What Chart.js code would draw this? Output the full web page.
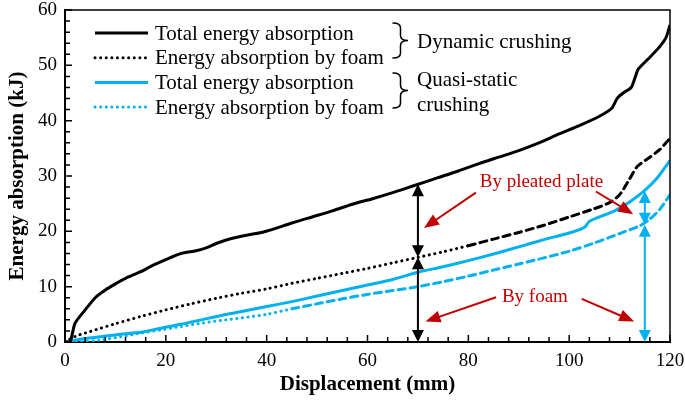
<!DOCTYPE html>
<html>
<head>
<meta charset="utf-8">
<script src="https://cdn.jsdelivr.net/npm/chart.js@4.4.1/dist/chart.umd.min.js"></script>
<style>
  html, body { margin: 0; padding: 0; background: #fff; }
  #wrap { position: relative; width: 685px; height: 402px; }
</style>
</head>
<body>
<div id="wrap"><canvas id="grafik"></canvas></div>
<script>
// ── VERI ──
// Dynamic crushing, total energy absorption (black solid)
const dynTotalX = [0, 1, 2, 4, 6, 8, 10, 12, 15, 17.5, 20, 23, 26, 28, 30, 33, 36, 39, 41, 45, 49, 53, 57, 61, 65, 69, 74, 78, 82, 86, 90, 94, 98, 102, 106, 108.5, 109.5, 110.7, 112.3, 113, 113.7, 115.5, 117.8, 119.2, 120]
const dynTotalY = [0, 0, 3.4, 5.8, 8.0, 9.4, 10.5, 11.5, 12.7, 13.9, 14.9, 16.0, 16.5, 17.0, 17.8, 18.7, 19.3, 19.8, 20.3, 21.5, 22.6, 23.7, 24.9, 25.9, 27.0, 28.2, 29.7, 30.9, 32.2, 33.4, 34.6, 36.0, 37.6, 39.1, 40.8, 42.3, 44.0, 45.0, 46.0, 47.6, 49.3, 51.0, 53.2, 55.0, 57.3]

// Dynamic crushing, energy absorption by foam (black dotted)
const dynFoamX = [0, 2, 5, 10, 15, 20, 25, 30, 35, 40, 45, 50, 55, 60, 65, 70, 75, 80, 85, 90, 95, 100, 105, 108, 110, 112, 113.5, 116, 118, 120]
const dynFoamY = [0, 1.0, 1.9, 3.3, 4.6, 5.8, 6.9, 7.9, 8.8, 9.6, 10.6, 11.5, 12.4, 13.3, 14.3, 15.3, 16.3, 17.4, 18.6, 19.8, 21.1, 22.6, 24.1, 25.2, 26.6, 29.5, 31.7, 33.4, 34.8, 36.8]

// Quasi-static crushing, total energy absorption (blue solid)
const qsTotalX = [0, 3, 7, 11, 15, 19, 23, 27, 31, 35, 40, 45, 50, 55, 60, 65, 70, 75, 80, 85, 90, 95, 100, 103, 104, 106, 109, 112, 115, 117.5, 120]
const qsTotalY = [0, 0.5, 0.95, 1.4, 1.75, 2.5, 3.2, 4.0, 4.8, 5.5, 6.4, 7.3, 8.3, 9.3, 10.3, 11.3, 12.6, 13.6, 14.7, 15.9, 17.2, 18.5, 19.7, 20.7, 21.8, 22.6, 23.7, 25.3, 27.4, 29.7, 32.8]

// Quasi-static crushing, energy absorption by foam (blue dashed)
const qsFoamX = [0, 3, 7, 11, 15, 19, 23, 27, 31, 35, 40, 45, 50, 55, 60, 65, 70, 75, 80, 85, 90, 95, 100, 105, 110, 114, 116, 118, 120]
const qsFoamY = [0, 0.05, 0.35, 0.95, 1.6, 2.2, 2.8, 3.4, 3.9, 4.35, 5.0, 6.0, 6.9, 7.8, 8.6, 9.3, 10.0, 10.9, 11.9, 13.0, 14.1, 15.2, 16.4, 17.9, 19.6, 21.0, 22.2, 24.0, 26.6]

const legendLabels = ['Total energy absorption', 'Energy absorption by foam', 'Total energy absorption', 'Energy absorption by foam']
const groupLabels = [['Dynamic crushing'], ['Quasi-static', 'crushing']]

// double arrows: [x, bottom, middle, top]
const dynArrow = [70, 0, 15.3, 28.5]
const qsArrow = [115, 0, 21.2, 27.3]

const SERIF = '"Liberation Serif", "Times New Roman", serif'
const BLUE = '#00b0f0'
const RED = '#c00000'

function noktalar(xs, ys) {
  return xs.map((x, i) => ({ x, y: ys[i] }))
}

// ── CIZIM YARDIMCILARI ──
function okBasi(ctx, tx, ty, aci, boy, en, renk) {
  ctx.save()
  ctx.fillStyle = renk
  ctx.translate(tx, ty)
  ctx.rotate(aci)
  ctx.beginPath()
  ctx.moveTo(0, 0)
  ctx.lineTo(-boy, -en / 2)
  ctx.lineTo(-boy, en / 2)
  ctx.closePath()
  ctx.fill()
  ctx.restore()
}

function ciftOk(ctx, x, yAlt, yUst, renk) {
  ctx.save()
  ctx.strokeStyle = renk
  ctx.lineWidth = 2
  ctx.beginPath()
  ctx.moveTo(x, yAlt - 10)
  ctx.lineTo(x, yUst + 10)
  ctx.stroke()
  ctx.restore()
  okBasi(ctx, x, yUst, -Math.PI / 2, 12, 12, renk)
  okBasi(ctx, x, yAlt, Math.PI / 2, 12, 12, renk)
}

function kirmiziOk(ctx, x0, y0, x1, y1) {
  const aci = Math.atan2(y1 - y0, x1 - x0)
  ctx.save()
  ctx.strokeStyle = RED
  ctx.lineWidth = 2
  ctx.beginPath()
  ctx.moveTo(x0, y0)
  ctx.lineTo(x1 - Math.cos(aci) * 12, y1 - Math.sin(aci) * 12)
  ctx.stroke()
  ctx.restore()
  okBasi(ctx, x1, y1, aci, 15, 12, RED)
}

function parantez(ctx, x0, yt, yb, w) {
  const ym = (yt + yb) / 2
  const xm = x0 + w / 2
  ctx.save()
  ctx.strokeStyle = '#000'
  ctx.lineWidth = 1.5
  ctx.beginPath()
  ctx.moveTo(x0, yt)
  ctx.quadraticCurveTo(xm, yt, xm, yt + 5)
  ctx.lineTo(xm, ym - 5)
  ctx.quadraticCurveTo(xm, ym, x0 + w, ym)
  ctx.quadraticCurveTo(xm, ym, xm, ym + 5)
  ctx.lineTo(xm, yb - 5)
  ctx.quadraticCurveTo(xm, yb, x0, yb)
  ctx.stroke()
  ctx.restore()
}

// ── EKLENTI: tikler, cerceve, oklar, lejant ──
const suslemeler = {
  id: 'suslemeler',
  afterDatasetsDraw(chart) {
    const { ctx, chartArea: a, scales: { x, y } } = chart

    // frame top & right
    ctx.save()
    ctx.strokeStyle = '#000'
    ctx.lineWidth = 1.5
    ctx.beginPath()
    ctx.moveTo(a.left, a.top)
    ctx.lineTo(a.right, a.top)
    ctx.lineTo(a.right, a.bottom)
    ctx.stroke()

    // inward ticks
    ctx.lineWidth = 1.5
    ctx.beginPath()
    for (let v = 0; v <= 120; v += 4) {
      const px = x.getPixelForValue(v)
      ctx.moveTo(px, a.bottom)
      ctx.lineTo(px, a.bottom - (v % 20 === 0 ? 7 : 5))
    }
    for (let v = 0; v <= 60; v += 2) {
      const py = y.getPixelForValue(v)
      ctx.moveTo(a.left, py)
      ctx.lineTo(a.left + (v % 10 === 0 ? 7 : 5), py)
    }
    ctx.stroke()
    ctx.restore()

    // double arrows
    const okCiz = (d, renk) => {
      const px = x.getPixelForValue(d[0])
      ciftOk(ctx, px, y.getPixelForValue(d[1]), y.getPixelForValue(d[2]), renk)
      ciftOk(ctx, px, y.getPixelForValue(d[2]), y.getPixelForValue(d[3]), renk)
    }
    okCiz(dynArrow, '#000')
    okCiz(qsArrow, BLUE)

    // red notes
    const P = (vx, vy) => [x.getPixelForValue(vx), y.getPixelForValue(vy)]
    ctx.save()
    ctx.fillStyle = RED
    ctx.font = '19px ' + SERIF
    ctx.textAlign = 'center'
    ctx.textBaseline = 'middle'
    ctx.fillText('By pleated plate', ...P(94.5, 28.9))
    ctx.fillText('By foam', ...P(93.2, 8.1))
    ctx.restore()
    kirmiziOk(ctx, ...P(81.5, 27.0), ...P(71.2, 20.6))
    kirmiziOk(ctx, ...P(105.3, 27.2), ...P(112.7, 23.1))
    kirmiziOk(ctx, ...P(85.5, 8.1), ...P(71.5, 3.7))
    kirmiziOk(ctx, ...P(102.5, 7.8), ...P(112.9, 3.7))

    // legend
    const stiller = [
      { renk: '#000', dash: [] },
      { renk: '#000', dash: [0.1, 5.5] },
      { renk: BLUE, dash: [] },
      { renk: BLUE, dash: [0.1, 5.5] }
    ]
    ctx.save()
    ctx.font = '21px ' + SERIF
    ctx.textBaseline = 'middle'
    legendLabels.forEach((t, i) => {
      const ly = a.top + 23 + i * 24.7
      ctx.strokeStyle = stiller[i].renk
      ctx.lineWidth = 3
      ctx.lineCap = stiller[i].dash.length ? 'round' : 'butt'
      ctx.setLineDash(stiller[i].dash)
      ctx.beginPath()
      ctx.moveTo(a.left + 30, ly)
      ctx.lineTo(a.left + 83, ly)
      ctx.stroke()
      ctx.setLineDash([])
      ctx.fillStyle = '#000'
      ctx.fillText(t, a.left + 90, ly + 1)
    })
    parantez(ctx, a.left + 328, a.top + 13, a.top + 48, 15)
    parantez(ctx, a.left + 328, a.top + 63, a.top + 98, 15)
    ctx.fillStyle = '#000'
    ctx.fillText(groupLabels[0][0], a.left + 352, a.top + 32)
    ctx.fillText(groupLabels[1][0], a.left + 352, a.top + 70)
    ctx.fillText(groupLabels[1][1], a.left + 352, a.top + 95)
    ctx.restore()
  }
}

// ── GRAFIK ──
const noktali = [0.1, 5.5]
const kesikli = [7, 5]

new Chart(document.getElementById('grafik'), {
  type: 'line',
  data: {
    datasets: [
      {
        data: noktalar(dynTotalX, dynTotalY),
        borderColor: '#000', borderWidth: 3, tension: 0.25
      },
      {
        data: noktalar(dynFoamX, dynFoamY),
        borderColor: '#000', borderWidth: 3, tension: 0.25,
        borderCapStyle: 'round',
        segment: { borderDash: c => c.p0.parsed.x >= 80 ? kesikli : noktali }
      },
      {
        data: noktalar(qsTotalX, qsTotalY),
        borderColor: BLUE, borderWidth: 3, tension: 0.25
      },
      {
        data: noktalar(qsFoamX, qsFoamY),
        borderColor: BLUE, borderWidth: 3, tension: 0.25,
        borderCapStyle: 'round',
        segment: { borderDash: c => c.p0.parsed.x >= 45 ? kesikli : noktali }
      }
    ]
  },
  options: {
    responsive: true,
    maintainAspectRatio: false,
    animation: false,
    events: [],
    elements: { point: { radius: 0 } },
    layout: { padding: 0 },
    plugins: { legend: { display: false }, tooltip: { enabled: false } },
    scales: {
      x: {
        type: 'linear', min: 0, max: 120,
        afterFit: s => {
          s.height = 60
          s.paddingLeft = 0
          s.paddingRight = 15
        },
        grid: { display: false, drawTicks: false },
        border: { display: true, color: '#000', width: 2 },
        ticks: { stepSize: 20, padding: 8, color: '#000', font: { family: SERIF, size: 19 } },
        title: {
          display: true, text: 'Displacement (mm)', color: '#000',
          padding: { top: 0, bottom: 5 },
          font: { family: SERIF, size: 21, weight: 'bold' }
        }
      },
      y: {
        min: 0, max: 60,
        afterFit: s => {
          s.width = 65
          s.paddingTop = 10
          s.paddingBottom = 0
        },
        grid: { display: false, drawTicks: false },
        border: { display: true, color: '#000', width: 2 },
        ticks: { stepSize: 10, padding: 8, color: '#000', font: { family: SERIF, size: 19 } },
        title: {
          display: true, text: 'Energy absorption (kJ)', color: '#000',
          padding: { top: 5, bottom: 0 },
          font: { family: SERIF, size: 21, weight: 'bold' }
        }
      }
    }
  },
  plugins: [suslemeler]
})
</script>
</body>
</html>
